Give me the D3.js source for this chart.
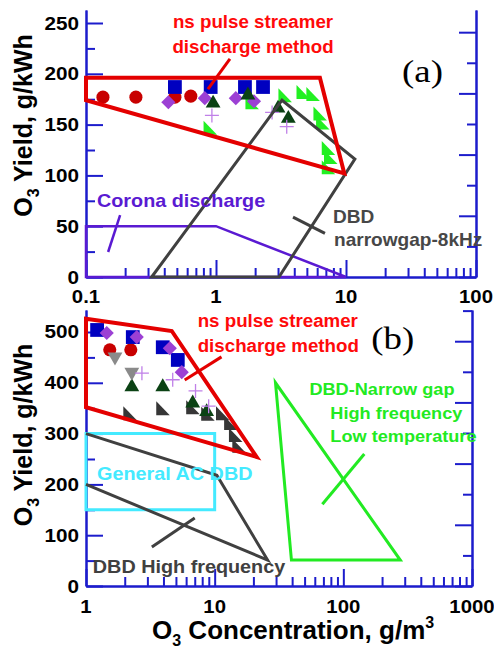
<!DOCTYPE html>
<html>
<head>
<meta charset="utf-8">
<script src="https://cdn.jsdelivr.net/npm/d3@7"></script>
<style>
  body { margin: 0; background: #fff; }
  svg { display: block; }
</style>
</head>
<body>
<svg id="chart" width="494" height="648"></svg>
<script>
// ---------- Panel (a): O3 yield vs O3 concentration ----------
const aXTicks = [0.1, 1, 10, 100];
const aXTickLabels = ["0.1", "1", "10", "100"];
const aYTicks = [0, 50, 100, 150, 200, 250];
const aYMinor = [25, 75, 125, 175, 225];

const aCircles   = [[0.135, 177], [0.242, 177], [0.483, 177], [0.64, 178]];
const aSquares   = [[0.483, 187], [0.91, 187], [1.67, 187], [2.30, 187]];
const aDiamonds  = [[0.43, 172], [0.82, 176], [1.42, 176], [1.96, 173]];
const aTriangles = [[0.95, 171], [1.76, 179], [3.0, 166], [3.6, 156]];
const aPlus      = [[0.93, 159], [2.7, 162], [3.5, 148]];
const aWedges    = [[0.9, 147], [1.89, 172], [3.39, 179], [4.67, 182], [5.56, 180],
                    [6.3, 161], [6.6, 152], [7.3, 127], [7.6, 118], [7.3, 108]];

const aNsRegion     = [[0.1, 196], [6.3, 196], [9.7, 102], [0.1, 174]];
const aDbdRegion    = [[0.32, 0], [3.22, 174], [11.7, 116], [3.05, 0]];
const aCoronaRegion = [[0.1, 50], [1, 50], [10, 0], [0.1, 0]];
const aNsPointer     = [[1.28, 214.6], [0.867, 185]];
const aCoronaPointer = [[0.183, 61], [0.148, 24.6]];
const aDbdPointer    = [[3.91, 59], [6.89, 43]];

// ---------- Panel (b) ----------
const bXTicks = [1, 10, 100, 1000];
const bXTickLabels = ["1", "10", "100", "1000"];
const bYTicks = [0, 100, 200, 300, 400, 500];
const bYMinor = [50, 150, 250, 350, 450];

const bSquares   = [[1.22, 504], [2.31, 490], [3.95, 470], [5.17, 445]];
const bDiamonds  = [[1.45, 498], [2.48, 490], [4.48, 468], [5.55, 421]];
const bCircles   = [[1.53, 465], [2.23, 465]];
const bDownTri   = [[1.68, 451], [2.27, 421]];
const bPlus      = [[2.72, 419], [4.72, 406], [7.1, 384], [8.98, 354]];
const bTriangles = [[2.27, 392], [3.95, 392], [6.75, 360], [8.66, 343]];
const bWedges    = [[2.19, 340], [3.95, 350], [6.75, 352], [8.83, 339],
                    [11.5, 340], [13.3, 321], [14.5, 297], [15.4, 276]];

const bNsRegion     = [[1, 526], [4.64, 502], [21.2, 254], [1, 352]];
const bAcRegion     = [[1, 300], [10, 300], [10, 150], [1, 150]];
const bHighFreqLine = [[1, 300], [10.4, 218], [25.8, 51], [1, 200]];
const bNarrowRegion = [[29.7, 400], [39.5, 51], [277, 51]];
const bNsPointer       = [[11.3, 451], [5.85, 405.5]];
const bHighFreqPointer = [[3.25, 77], [7.0, 134]];
const bNarrowPointer   = [[68.7, 161], [145.5, 260]];

// ---------- styles ----------
const AXIS = "#1c1ccc";
const RED_LINE = "#e40000", RED_TEXT = "#ff0a0a";
const GRAY = "#404040";
const PURPLE = "#5a1ad2";
const CYAN = "#44eaff";
const GREEN = "#22ea22";
const SANS = "'Liberation Sans', Arial, Helvetica, sans-serif";
const SERIF = "'Liberation Serif', 'Times New Roman', serif";

const svg = d3.select("#chart");

function minorLogTicks(domain) {
  const out = [];
  for (let d = domain[0]; d < domain[1] * 0.999; d *= 10) {
    for (let k = 2; k <= 9; k++) out.push(+(d * k).toPrecision(6));
  }
  return out;
}

const shapes = {
  circle:   { d: d3.symbol(d3.symbolCircle, 135)(), rot: 0, fill: true },
  square:   { d: d3.symbol(d3.symbolSquare, 190)(), rot: 0, fill: true },
  diamond:  { d: d3.symbol(d3.symbolSquare, 100)(), rot: 45, fill: true },
  triangle: { d: d3.symbol(d3.symbolTriangle, 95)(), rot: 0, fill: true },
  triDown:  { d: d3.symbol(d3.symbolTriangle, 95)(), rot: 180, fill: true },
  wedge:    { d: "M-6.5,-7L-6.5,7L7,7Z", rot: 0, fill: true },
  plus:     { d: "M-7,0H7M0,-7V7", rot: 0, fill: false }
};

function addText(g, px, py, str, o) {
  return g.append("text")
    .attr("transform", `translate(${px},${py}) scale(${o.sx ?? 1.1},1)`)
    .attr("text-anchor", o.anchor || "start")
    .attr("font-family", o.family || SANS)
    .attr("font-weight", o.weight || "bold")
    .attr("font-size", o.size)
    .attr("fill", o.color)
    .text(str);
}

function drawPanel(p) {
  const g = svg.append("g");
  const x = d3.scaleLog().domain(p.xDomain).range(p.xRange);
  const y = d3.scaleLinear().domain(p.yDomain).range(p.yRange);
  const yr = d3.scaleLinear().domain(p.rDomain).range(p.yRange);
  const [L, R] = p.xRange, [B] = p.yRange;

  const styleAxis = sel => {
    sel.select(".domain").attr("stroke", AXIS).attr("stroke-width", 2);
    sel.selectAll(".tick line").attr("stroke", AXIS).attr("stroke-width", 2);
    sel.selectAll(".tick text").remove();
  };

  // bottom axis, ticks pointing inward
  g.append("g").attr("transform", `translate(0,${B})`)
    .call(d3.axisBottom(x).tickValues(p.xTicks).tickSize(-17).tickSizeOuter(0)).call(styleAxis);
  g.append("g").attr("transform", `translate(0,${B})`)
    .call(d3.axisBottom(x).tickValues(minorLogTicks(p.xDomain)).tickSize(-9).tickSizeOuter(0)).call(styleAxis);
  // left axis
  g.append("g").attr("transform", `translate(${L},0)`)
    .call(d3.axisLeft(y).tickValues(p.yTicks).tickSize(-17).tickSizeOuter(0)).call(styleAxis);
  g.append("g").attr("transform", `translate(${L},0)`)
    .call(d3.axisLeft(y).tickValues(p.yMinor).tickSize(-9).tickSizeOuter(0)).call(styleAxis);
  // right axis with its own tick spacing
  g.append("g").attr("transform", `translate(${R},0)`)
    .call(d3.axisRight(yr).tickValues(p.rMajor).tickSize(-17).tickSizeOuter(0)).call(styleAxis);
  g.append("g").attr("transform", `translate(${R},0)`)
    .call(d3.axisRight(yr).tickValues(p.rMinor).tickSize(-9).tickSizeOuter(0)).call(styleAxis);

  // tick labels
  p.xTicks.forEach((v, i) => addText(g, x(v), p.xLabelBaseline, p.xTickLabels[i],
    { size: 18.5, color: "#000", anchor: "middle", sx: 1.1 }));
  p.yTicks.forEach(v => addText(g, L - 7, y(v) + 6.5, String(v),
    { size: 18.5, color: "#000", anchor: "end", sx: 1.12 }));

  // markers
  p.markers.forEach(m => {
    const s = shapes[m.shape];
    g.append("g").selectAll("path").data(m.data).join("path")
      .attr("d", s.d)
      .attr("transform", d => `translate(${x(d[0])},${y(d[1])}) rotate(${s.rot})`)
      .attr("fill", s.fill ? m.color : "none")
      .attr("stroke", s.fill ? "none" : m.color)
      .attr("stroke-width", s.fill ? 0 : 1.3);
  });

  // outlined regions and pointer lines
  const line = d3.line().x(d => x(d[0])).y(d => y(d[1]));
  const closed = d3.line().x(d => x(d[0])).y(d => y(d[1])).curve(d3.curveLinearClosed);
  p.shapesOut.forEach(s => {
    g.append("path").datum(s.data)
      .attr("d", s.closed ? closed : line)
      .attr("fill", "none").attr("stroke", s.color).attr("stroke-width", s.width)
      .attr("stroke-linejoin", "miter");
  });

  // annotation text
  p.notes.forEach(n => addText(g, x(n.x), y(n.y), n.text, n));
  return { g, x, y };
}

// Panel (a)
drawPanel({
  xDomain: [0.1, 100], xRange: [86, 476],
  yDomain: [0, 262.8], yRange: [277, 10],
  rDomain: [0, 8.725], rMajor: [0, 2, 4, 6, 8], rMinor: [1, 3, 5, 7],
  xTicks: aXTicks, xTickLabels: aXTickLabels, xLabelBaseline: 303,
  yTicks: aYTicks, yMinor: aYMinor,
  markers: [
    { data: aWedges, shape: "wedge", color: "#22f022" },
    { data: aCircles, shape: "circle", color: "#c80000" },
    { data: aSquares, shape: "square", color: "#0000c0" },
    { data: aDiamonds, shape: "diamond", color: "#9c40d4" },
    { data: aTriangles, shape: "triangle", color: "#0b4214" },
    { data: aPlus, shape: "plus", color: "#c080e8" }
  ],
  shapesOut: [
    { data: aCoronaRegion, closed: true, color: PURPLE, width: 2.5 },
    { data: aCoronaPointer, closed: false, color: PURPLE, width: 2.5 },
    { data: aDbdRegion, closed: true, color: GRAY, width: 3 },
    { data: aDbdPointer, closed: false, color: GRAY, width: 3 },
    { data: aNsRegion, closed: true, color: RED_LINE, width: 4 },
    { data: aNsPointer, closed: false, color: RED_LINE, width: 3 }
  ],
  notes: [
    { text: "ns pulse streamer", x: 1.926, y: 245, size: 18, color: RED_TEXT, anchor: "middle", sx: 1.04 },
    { text: "discharge method", x: 1.926, y: 220.5, size: 18, color: RED_TEXT, anchor: "middle", sx: 1.04 },
    { text: "Corona discharge", x: 0.1215, y: 69, size: 18, color: PURPLE },
    { text: "DBD", x: 7.94, y: 53, size: 18, color: "#474747", sx: 1.06 },
    { text: "narrowgap-8kHz", x: 8.09, y: 30.5, size: 18, color: "#474747", sx: 1.06 },
    { text: "(a)", x: 27, y: 192, size: 32, color: "#000", weight: "normal", family: SERIF, sx: 1.15 }
  ]
});

// Panel (b)
drawPanel({
  xDomain: [1, 1000], xRange: [86, 472],
  yDomain: [0, 543.3], yRange: [586, 310],
  rDomain: [0, 9.02], rMajor: [0, 2, 4, 6, 8], rMinor: [1, 3, 5, 7, 9],
  xTicks: bXTicks, xTickLabels: bXTickLabels, xLabelBaseline: 613,
  yTicks: bYTicks, yMinor: bYMinor,
  markers: [
    { data: bWedges, shape: "wedge", color: "#363636" },
    { data: bTriangles, shape: "triangle", color: "#0b4214" },
    { data: bCircles, shape: "circle", color: "#c80000" },
    { data: bDownTri, shape: "triDown", color: "#8a8a8a" },
    { data: bSquares, shape: "square", color: "#0000c0" },
    { data: bDiamonds, shape: "diamond", color: "#9c40d4" },
    { data: bPlus, shape: "plus", color: "#c080e8" }
  ],
  shapesOut: [
    { data: bAcRegion, closed: true, color: CYAN, width: 3 },
    { data: bHighFreqLine, closed: false, color: GRAY, width: 3 },
    { data: bHighFreqPointer, closed: false, color: GRAY, width: 3 },
    { data: bNarrowRegion, closed: true, color: GREEN, width: 3 },
    { data: bNarrowPointer, closed: false, color: GREEN, width: 3 },
    { data: bNsRegion, closed: true, color: RED_LINE, width: 4 },
    { data: bNsPointer, closed: false, color: RED_LINE, width: 3 }
  ],
  notes: [
    { text: "ns pulse streamer", x: 7.38, y: 510, size: 18, color: RED_TEXT, sx: 1.04 },
    { text: "discharge method", x: 7.38, y: 460.6, size: 18, color: RED_TEXT, sx: 1.04 },
    { text: "(b)", x: 165, y: 466, size: 32, color: "#000", weight: "normal", family: SERIF, sx: 1.15 },
    { text: "General AC DBD", x: 1.22, y: 208.7, size: 18, color: CYAN },
    { text: "DBD High frequency", x: 1.13, y: 25.6, size: 18, color: GRAY },
    { text: "DBD-Narrow gap", x: 54.5, y: 376, size: 16.5, color: GREEN },
    { text: "High frequency", x: 79.3, y: 328.7, size: 16.5, color: GREEN },
    { text: "Low temperature", x: 79.3, y: 283.5, size: 16.5, color: GREEN }
  ]
});

// ---------- axis titles ----------
function yTitle(cy) {
  const t = svg.append("text")
    .attr("transform", `translate(32,${cy}) rotate(-90)`)
    .attr("text-anchor", "middle")
    .attr("font-family", SANS).attr("font-weight", "bold")
    .attr("font-size", 25).attr("fill", "#000");
  t.append("tspan").text("O");
  t.append("tspan").attr("font-size", 16).attr("dy", 7).text("3");
  t.append("tspan").attr("dy", -7).text(" Yield, g/kWh");
}
yTitle(125.5);
yTitle(435);

const xt = svg.append("text")
  .attr("x", 152).attr("y", 639)
  .attr("font-family", SANS).attr("font-weight", "bold")
  .attr("font-size", 26).attr("fill", "#000");
xt.append("tspan").text("O");
xt.append("tspan").attr("font-size", 16).attr("dy", 7).text("3");
xt.append("tspan").attr("dy", -7).text(" Concentration, g/m");
xt.append("tspan").attr("font-size", 16).attr("dy", -11).text("3");
</script>
</body>
</html>
